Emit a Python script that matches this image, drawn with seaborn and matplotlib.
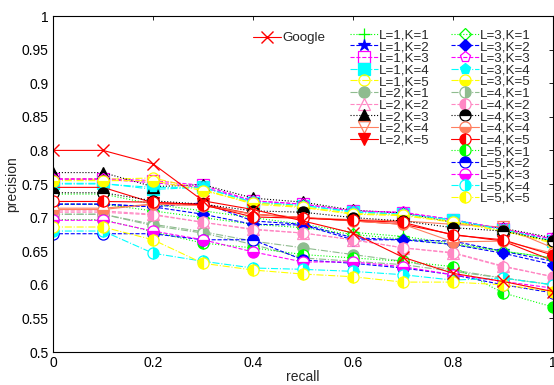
import numpy as np
import pandas as pd
import matplotlib
matplotlib.use("Agg")
import matplotlib.pyplot as plt
import seaborn as sns

recall = [0.0, 0.1, 0.2, 0.3, 0.4, 0.5, 0.6, 0.7, 0.8, 0.9, 1.0]

google = [0.800, 0.800, 0.780, 0.725, 0.712, 0.695, 0.677, 0.641, 0.617, 0.605, 0.590]

L1K1 = [0.735, 0.735, 0.720, 0.710, 0.700, 0.690, 0.678, 0.672, 0.662, 0.650, 0.640]
L1K2 = [0.720, 0.720, 0.716, 0.722, 0.695, 0.690, 0.670, 0.667, 0.665, 0.650, 0.635]
L1K3 = [0.758, 0.758, 0.755, 0.748, 0.725, 0.720, 0.710, 0.707, 0.697, 0.683, 0.668]
L1K4 = [0.751, 0.751, 0.742, 0.745, 0.722, 0.718, 0.708, 0.705, 0.696, 0.682, 0.665]
L1K5 = [0.757, 0.757, 0.759, 0.742, 0.720, 0.715, 0.705, 0.703, 0.693, 0.680, 0.662]
L2K1 = [0.705, 0.705, 0.690, 0.679, 0.665, 0.655, 0.645, 0.635, 0.622, 0.610, 0.600]
L2K2 = [0.710, 0.710, 0.705, 0.693, 0.683, 0.677, 0.667, 0.655, 0.648, 0.628, 0.612]
L2K3 = [0.767, 0.767, 0.746, 0.749, 0.729, 0.723, 0.711, 0.707, 0.693, 0.684, 0.670]
L2K4 = [0.714, 0.714, 0.720, 0.718, 0.705, 0.700, 0.697, 0.695, 0.690, 0.686, 0.655]
L2K5 = [0.745, 0.745, 0.722, 0.720, 0.705, 0.700, 0.695, 0.690, 0.675, 0.665, 0.636]
L3K1 = [0.720, 0.720, 0.710, 0.700, 0.690, 0.685, 0.675, 0.668, 0.660, 0.650, 0.640]
L3K2 = [0.720, 0.720, 0.716, 0.705, 0.690, 0.689, 0.667, 0.667, 0.660, 0.647, 0.630]
L3K3 = [0.757, 0.757, 0.752, 0.745, 0.725, 0.720, 0.710, 0.708, 0.697, 0.683, 0.668]
L3K4 = [0.750, 0.750, 0.745, 0.745, 0.723, 0.718, 0.709, 0.705, 0.697, 0.682, 0.665]
L3K5 = [0.755, 0.755, 0.755, 0.740, 0.722, 0.716, 0.706, 0.704, 0.694, 0.680, 0.664]
L4K1 = [0.705, 0.705, 0.688, 0.677, 0.660, 0.640, 0.635, 0.630, 0.620, 0.610, 0.600]
L4K2 = [0.708, 0.708, 0.704, 0.693, 0.682, 0.677, 0.667, 0.655, 0.647, 0.627, 0.612]
L4K3 = [0.737, 0.737, 0.725, 0.720, 0.710, 0.708, 0.700, 0.695, 0.685, 0.680, 0.665]
L4K4 = [0.712, 0.712, 0.720, 0.718, 0.705, 0.700, 0.695, 0.690, 0.664, 0.665, 0.647]
L4K5 = [0.724, 0.724, 0.723, 0.719, 0.701, 0.699, 0.696, 0.693, 0.674, 0.667, 0.644]
L5K1 = [0.697, 0.697, 0.679, 0.662, 0.655, 0.645, 0.640, 0.635, 0.627, 0.588, 0.567]
L5K2 = [0.676, 0.676, 0.676, 0.667, 0.667, 0.637, 0.632, 0.625, 0.615, 0.600, 0.588]
L5K3 = [0.696, 0.696, 0.680, 0.667, 0.649, 0.634, 0.634, 0.627, 0.615, 0.605, 0.595]
L5K4 = [0.680, 0.680, 0.647, 0.635, 0.625, 0.623, 0.620, 0.615, 0.607, 0.610, 0.600]
L5K5 = [0.686, 0.686, 0.667, 0.632, 0.622, 0.616, 0.612, 0.604, 0.604, 0.600, 0.590]

series_names = ["L=1,K=1", "L=1,K=2", "L=1,K=3", "L=1,K=4", "L=1,K=5",
                "L=2,K=1", "L=2,K=2", "L=2,K=3", "L=2,K=4", "L=2,K=5",
                "L=3,K=1", "L=3,K=2", "L=3,K=3", "L=3,K=4", "L=3,K=5",
                "L=4,K=1", "L=4,K=2", "L=4,K=3", "L=4,K=4", "L=4,K=5",
                "L=5,K=1", "L=5,K=2", "L=5,K=3", "L=5,K=4", "L=5,K=5"]
series_values = [L1K1, L1K2, L1K3, L1K4, L1K5, L2K1, L2K2, L2K3, L2K4, L2K5,
                 L3K1, L3K2, L3K3, L3K4, L3K5, L4K1, L4K2, L4K3, L4K4, L4K5,
                 L5K1, L5K2, L5K3, L5K4, L5K5]

colors10 = ["#00ff00", "#0000ff", "#ff00ff", "#00ffff", "#ffff00",
            "#8fbc8f", "#ff88c4", "#000000", "#ff7f5f", "#ff0000"]
styles10 = [":", "--", "--", "-.", "-.", "-.", "--", ":", "-", "-"]
# (marker, fillstyle)
markers = [("+", "full"), ("*", "full"), ("s", "none"), ("s", "full"), ("o", "none"),
           ("o", "full"), ("^", "none"), ("^", "full"), ("v", "none"), ("v", "full"),
           ("D", "none"), ("D", "full"), ("p", "none"), ("p", "full"), ("o", "bottom"),
           ("o", "right"), ("o", "left"), ("o", "top"), ("o", "bottom"), ("o", "left"),
           ("o", "left"), ("o", "top"), ("o", "bottom"), ("o", "right"), ("o", "left")]

rows = []
for n, v in zip(series_names, series_values):
    for r, p in zip(recall, v):
        rows.append({"series": n, "recall": r, "precision": p})
df = pd.DataFrame(rows)
gdf = pd.DataFrame({"recall": recall, "precision": google})

sns.set_style("white")
plt.rcParams["font.family"] = ["Liberation Sans", "DejaVu Sans"]

fig = plt.figure(figsize=(5.54, 3.85), dpi=100)
ax = fig.add_axes([53/554, 1-352/385, 500/554, 336/385])

handles = []
for i, n in enumerate(series_names):
    c = colors10[i % 10]
    ls = styles10[i % 10]
    m, fs = markers[i]
    sub = df[df["series"] == n]
    ms = 8
    if m == "D":
        ms = 6
    if m in ("+", "*"):
        ms = 9
    sns.lineplot(data=sub, x="recall", y="precision", ax=ax, color=c,
                 linestyle=ls, linewidth=0.8, marker=m, fillstyle=fs,
                 markersize=ms, markeredgecolor=c, markerfacecolor=c,
                 markerfacecoloralt="white", markeredgewidth=0.9,
                 label=n, legend=False)
    handles.append(ax.lines[-1])

sns.lineplot(data=gdf, x="recall", y="precision", ax=ax, color="#ff0000",
             linestyle="-", linewidth=0.8, marker="x", markersize=9,
             markeredgecolor="#ff0000", markeredgewidth=1.0,
             label="Google", legend=False)
ghandle = ax.lines[-1]

ax.set_xlim(0, 1)
ax.set_ylim(0.5, 1)
ax.set_xticks([0, 0.2, 0.4, 0.6, 0.8, 1.0])
ax.set_xticklabels(["0", "0.2", "0.4", "0.6", "0.8", "1"])
yt = [0.5, 0.55, 0.6, 0.65, 0.7, 0.75, 0.8, 0.85, 0.9, 0.95, 1.0]
ax.set_yticks(yt)
ax.set_yticklabels(["0.5", "0.55", "0.6", "0.65", "0.7", "0.75", "0.8", "0.85", "0.9", "0.95", "1"])
ax.tick_params(direction="in", top=True, right=True, length=3, width=0.6,
               labelsize=10, pad=3, colors="black")
for s in ax.spines.values():
    s.set_color("black")
    s.set_linewidth(0.8)
ax.set_xlabel("recall", fontsize=10, labelpad=0)
ax.set_ylabel("precision", fontsize=10, labelpad=2)

lkw = dict(frameon=False, fontsize=9.6, handlelength=2.1, handletextpad=0.1,
           borderpad=0, borderaxespad=0, labelspacing=-0.05, loc="upper left",
           bbox_transform=fig.transFigure)
leg1 = ax.legend([ghandle], ["Google"], bbox_to_anchor=(253/554, 1-32/385), **lkw)
ax.add_artist(leg1)
leg2 = ax.legend(handles[:10], series_names[:10], bbox_to_anchor=(350/554, 1-29/385), **lkw)
ax.add_artist(leg2)
leg3 = ax.legend(handles[10:], series_names[10:], bbox_to_anchor=(451/554, 1-29/385), **lkw)

fig.savefig("out.png", dpi=100)
